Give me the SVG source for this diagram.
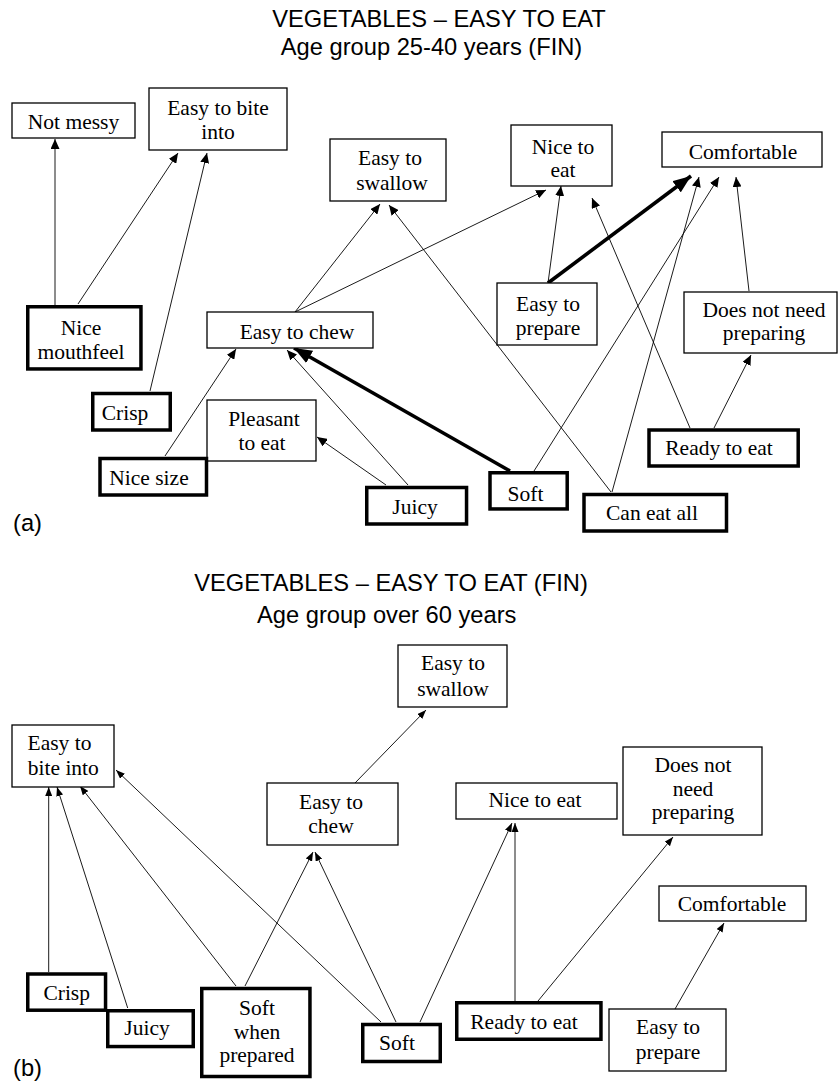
<svg xmlns="http://www.w3.org/2000/svg" width="839" height="1083" viewBox="0 0 839 1083">
<style>
.bg{fill:#fff}
.n rect{fill:#fff;stroke:#000;stroke-width:1.3}
.n.k rect{stroke-width:3.5}
.n text{font-family:"Liberation Serif","Times New Roman",serif;font-size:21.5px;fill:#000;text-anchor:middle}
.t{font-family:"Liberation Sans",Arial,sans-serif;font-size:23.7px;fill:#000}
.c line{stroke:#000;stroke-width:0.9;fill:none}
.c line.a{marker-end:url(#ah)}
.c line.b{marker-end:url(#ab)}
.c line.h{stroke-width:3.6;marker-end:url(#ak)}
</style>
<defs>
<marker id="ah" markerUnits="userSpaceOnUse" markerWidth="10" markerHeight="9" refX="10" refY="4.5" orient="auto"><path d="M0,0 L10,4.5 L0,9 z" fill="#000"/></marker>
<marker id="ab" markerUnits="userSpaceOnUse" markerWidth="9" markerHeight="7" refX="9" refY="3.5" orient="auto"><path d="M0,0 L9,3.5 L0,7 z" fill="#000"/></marker>
<marker id="ak" markerUnits="userSpaceOnUse" markerWidth="18" markerHeight="14" refX="18" refY="7" orient="auto"><path d="M0,0 L18,7 L0,14 z" fill="#000"/></marker>
</defs>
<rect class="bg" x="0" y="0" width="839" height="1083"/>

<g id="titles">
<text class="t" x="439" y="27" text-anchor="middle">VEGETABLES – EASY TO EAT</text>
<text class="t" x="431.5" y="55" text-anchor="middle">Age group 25-40 years (FIN)</text>
<text class="t" x="13" y="531">(a)</text>
<text class="t" x="391" y="591" text-anchor="middle">VEGETABLES – EASY TO EAT (FIN)</text>
<text class="t" x="386.7" y="623" text-anchor="middle">Age group over 60 years</text>
<text class="t" x="13" y="1076">(b)</text>
</g>

<g id="connectors" class="c">
<line class="a" x1="55" y1="305" x2="55" y2="139"/>
<line class="a" x1="78" y1="304" x2="178" y2="153"/>
<line class="a" x1="150" y1="391" x2="207" y2="153"/>
<line class="a" x1="295" y1="312" x2="380" y2="204"/>
<line class="a" x1="295" y1="312" x2="546" y2="190"/>
<line class="a" x1="611" y1="492" x2="389" y2="205"/>
<line class="a" x1="548" y1="283" x2="561" y2="186"/>
<line class="h" x1="548" y1="283" x2="691" y2="176"/>
<line class="a" x1="690" y1="428" x2="592" y2="198"/>
<line class="a" x1="714" y1="428" x2="751" y2="355"/>
<line class="a" x1="749" y1="291" x2="736" y2="177"/>
<line class="h" x1="510" y1="471" x2="294" y2="348"/>
<line class="a" x1="534" y1="471" x2="719" y2="177"/>
<line class="a" x1="612" y1="492" x2="699" y2="177"/>
<line class="a" x1="165" y1="456" x2="236" y2="349"/>
<line class="a" x1="386" y1="485" x2="317" y2="437"/>
<line class="a" x1="408" y1="485" x2="287" y2="350"/>

<line class="b" x1="48.7" y1="972" x2="48.7" y2="787"/>
<line class="b" x1="127.7" y1="1008" x2="57" y2="787"/>
<line class="b" x1="236" y1="986" x2="80" y2="786"/>
<line class="b" x1="381" y1="1022" x2="116" y2="770"/>
<line class="b" x1="245" y1="986" x2="313" y2="852"/>
<line class="b" x1="396" y1="1022" x2="315" y2="852"/>
<line class="b" x1="355" y1="783" x2="426" y2="710"/>
<line class="b" x1="420" y1="1022" x2="512" y2="823"/>
<line class="b" x1="515" y1="1001" x2="515" y2="823"/>
<line class="b" x1="538" y1="1001" x2="673" y2="837"/>
<line class="b" x1="675" y1="1009" x2="724" y2="923"/>
</g>

<g id="a-not-messy" class="n"><rect x="12" y="103" width="123" height="35"/><text x="73.5" y="128.5">Not messy</text></g>
<g id="a-easy-bite" class="n"><rect x="149" y="88" width="138" height="62"/><text x="218" y="115">Easy to bite</text><text x="218" y="138.5">into</text></g>
<g id="a-easy-swallow" class="n"><rect x="330" y="139" width="116" height="62"/><text x="390" y="164.5">Easy to</text><text x="392" y="190">swallow</text></g>
<g id="a-nice-eat" class="n"><rect x="511" y="125" width="101" height="61"/><text x="563" y="153.5">Nice to</text><text x="563" y="177">eat</text></g>
<g id="a-comfortable" class="n"><rect x="662" y="132" width="160" height="35"/><text x="743" y="158.5">Comfortable</text></g>
<g id="a-nice-mouthfeel" class="n k"><rect x="27.75" y="306.75" width="113.2" height="62.2"/><text x="81" y="335">Nice</text><text x="81" y="358.5">mouthfeel</text></g>
<g id="a-easy-chew" class="n"><rect x="207" y="312" width="166" height="36"/><text x="297" y="338.5">Easy to chew</text></g>
<g id="a-crisp" class="n k"><rect x="92.75" y="393.5" width="77.5" height="36.5"/><text x="125" y="420">Crisp</text></g>
<g id="a-pleasant" class="n"><rect x="207" y="400" width="109" height="61"/><text x="264" y="425.5">Pleasant</text><text x="262" y="449.5">to eat</text></g>
<g id="a-nice-size" class="n k"><rect x="100" y="458.5" width="106.5" height="36.5"/><text x="149" y="485">Nice size</text></g>
<g id="a-juicy" class="n k"><rect x="366.75" y="487.5" width="99.8" height="36.5"/><text x="415" y="513.5">Juicy</text></g>
<g id="a-soft" class="n k"><rect x="490" y="472.75" width="77.2" height="36.2"/><text x="525.5" y="500.5">Soft</text></g>
<g id="a-can-eat-all" class="n k"><rect x="584" y="494.5" width="142.5" height="36.5"/><text x="652" y="519.5">Can eat all</text></g>
<g id="a-ready" class="n k"><rect x="649" y="430" width="149.2" height="36"/><text x="719" y="455">Ready to eat</text></g>
<g id="a-easy-prepare" class="n"><rect x="497" y="283" width="100" height="62"/><text x="548" y="311">Easy to</text><text x="548" y="335">prepare</text></g>
<g id="a-does-not-need" class="n"><rect x="684" y="292" width="153" height="61"/><text x="764" y="317">Does not need</text><text x="764" y="340">preparing</text></g>

<g id="b-easy-bite" class="n"><rect x="12" y="725" width="102" height="62"/><text x="59.5" y="750">Easy to</text><text x="63.3" y="775">bite into</text></g>
<g id="b-easy-swallow" class="n"><rect x="398" y="645" width="109" height="62"/><text x="453" y="670">Easy to</text><text x="453" y="696">swallow</text></g>
<g id="b-easy-chew" class="n"><rect x="267" y="783" width="131" height="62"/><text x="331" y="809">Easy to</text><text x="331" y="832.5">chew</text></g>
<g id="b-nice-eat" class="n"><rect x="456" y="783" width="161" height="36"/><text x="535" y="807">Nice to eat</text></g>
<g id="b-does-not-need" class="n"><rect x="623" y="747" width="139" height="88"/><text x="693" y="772">Does not</text><text x="693" y="795.5">need</text><text x="693" y="819">preparing</text></g>
<g id="b-comfortable" class="n"><rect x="659" y="886" width="147" height="35"/><text x="732" y="911">Comfortable</text></g>
<g id="b-crisp" class="n k"><rect x="27.75" y="974" width="77.8" height="36.2"/><text x="66.7" y="1000">Crisp</text></g>
<g id="b-juicy" class="n k"><rect x="107.75" y="1010.75" width="85.5" height="35.8"/><text x="147" y="1035">Juicy</text></g>
<g id="b-soft-prepared" class="n k"><rect x="201.75" y="988.5" width="108.2" height="88"/><text x="257" y="1015">Soft</text><text x="257" y="1038.5">when</text><text x="257" y="1062">prepared</text></g>
<g id="b-soft" class="n k"><rect x="362.75" y="1024.5" width="77.5" height="37"/><text x="397" y="1050">Soft</text></g>
<g id="b-ready" class="n k"><rect x="456.75" y="1002.75" width="144.2" height="36.5"/><text x="524" y="1028.5">Ready to eat</text></g>
<g id="b-easy-prepare" class="n"><rect x="609" y="1009" width="117" height="62"/><text x="668" y="1033.5">Easy to</text><text x="668" y="1058.5">prepare</text></g>
</svg>
